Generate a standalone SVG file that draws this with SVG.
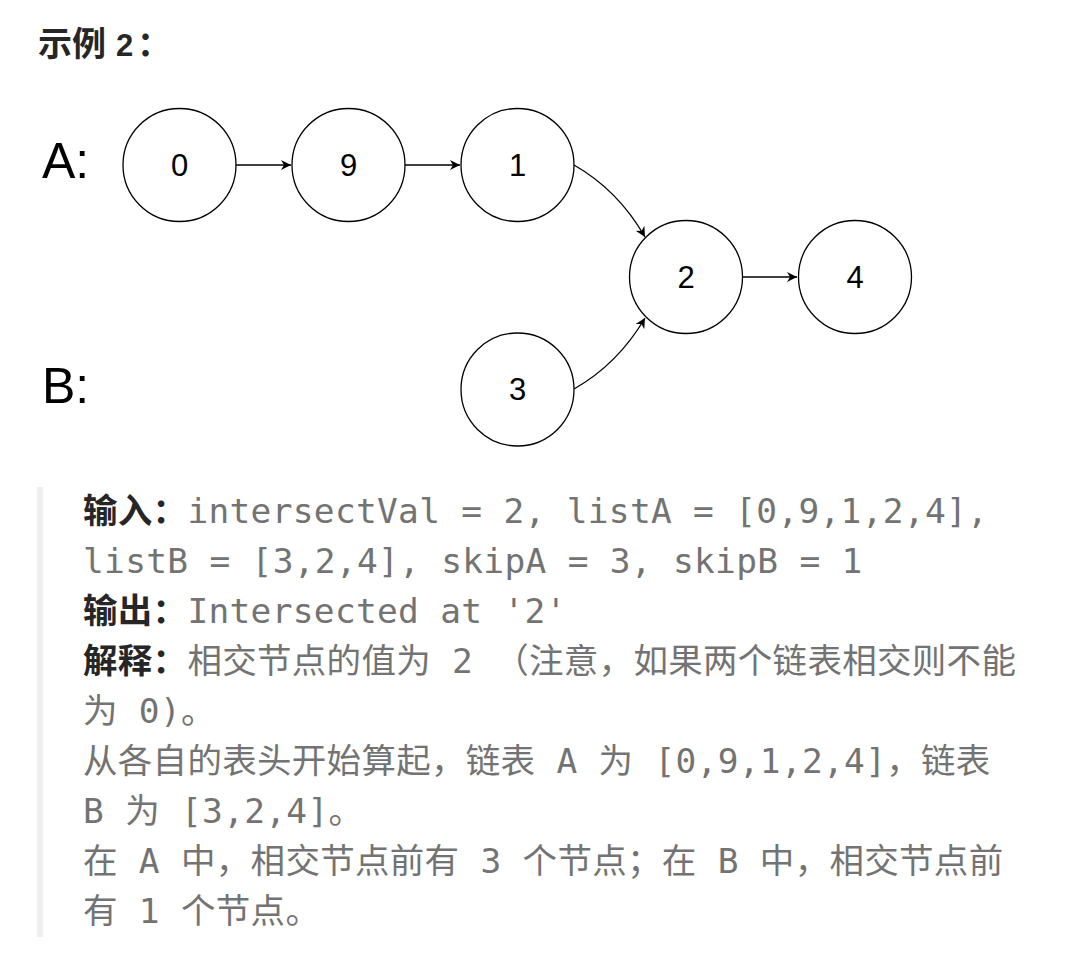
<svg xmlns="http://www.w3.org/2000/svg" width="1071" height="959" viewBox="0 0 1071 959">
<style>
.node{fill:#fff;stroke:#000;stroke-width:1.3}
.num{font-family:"Liberation Sans",Arial,sans-serif;font-size:31px;fill:#000;text-anchor:middle}
.lab{font-family:"Liberation Sans",Arial,sans-serif;font-size:50px;fill:#000}
.edge{fill:none;stroke:#000;stroke-width:1.3}
.body{font-family:"DejaVu Sans Mono","Noto Sans CJK SC",monospace;font-size:34.5px;letter-spacing:0.3px;fill:#737373}
.b{font-family:"Noto Sans CJK SC",sans-serif;font-weight:bold;fill:#262626}
.h{font-family:"Noto Sans CJK SC",sans-serif;font-weight:bold;fill:#262626;font-size:34px}
.h2{font-family:"Liberation Sans",Arial,sans-serif;font-weight:bold;fill:#262626;font-size:31px}
</style>
<defs>
<marker id="arr" markerUnits="userSpaceOnUse" markerWidth="12" markerHeight="12" refX="10" refY="5" orient="auto" viewBox="0 0 12 10">
<path d="M0,0 L10,5 L0,10 L3,5 Z" fill="#000"/>
</marker>
</defs>
<rect width="1071" height="959" fill="#fff"/>
<g id="heading">
<text x="38" y="56" xml:space="preserve"><tspan class="h">示例</tspan><tspan class="h2" x="116">2</tspan><tspan class="h" x="137">：</tspan></text>
</g>
<g id="labels">
<text class="lab" x="42" y="178">A:</text>
<text class="lab" x="42" y="403">B:</text>
</g>
<g id="connectors">
<path class="edge" d="M236,165 L291,165" marker-end="url(#arr)"/>
<path class="edge" d="M405,165 L460,165" marker-end="url(#arr)"/>
<path class="edge" d="M743,277 L797,277" marker-end="url(#arr)"/>
<path class="edge" d="M574,165 Q618,190 645,237" marker-end="url(#arr)"/>
<path class="edge" d="M574,389 Q618,364 645,318" marker-end="url(#arr)"/>
</g>
<g id="node-0"><circle class="node" cx="179.5" cy="165" r="56.5"/><text class="num" x="179.5" y="176">0</text></g>
<g id="node-9"><circle class="node" cx="348.5" cy="165" r="56.5"/><text class="num" x="348.5" y="176">9</text></g>
<g id="node-1"><circle class="node" cx="517.5" cy="165" r="56.5"/><text class="num" x="517.5" y="176">1</text></g>
<g id="node-2"><circle class="node" cx="686" cy="277" r="56.5"/><text class="num" x="686" y="288">2</text></g>
<g id="node-4"><circle class="node" cx="855" cy="277" r="56.5"/><text class="num" x="855" y="288">4</text></g>
<g id="node-3"><circle class="node" cx="517.5" cy="389.5" r="56.5"/><text class="num" x="517.5" y="400">3</text></g>
<g id="explanation">
<rect x="37" y="487" width="6" height="450" fill="#eeeeee"/>
<text class="body" x="83" y="523" xml:space="preserve"><tspan class="b">输入：</tspan>intersectVal = 2, listA = [0,9,1,2,4],</text>
<text class="body" x="83" y="573" xml:space="preserve">listB = [3,2,4], skipA = 3, skipB = 1</text>
<text class="body" x="83" y="623" xml:space="preserve"><tspan class="b">输出：</tspan>Intersected at '2'</text>
<text class="body" x="83" y="673" xml:space="preserve"><tspan class="b">解释：</tspan>相交节点的值为 2 （注意，如果两个链表相交则不能</text>
<text class="body" x="83" y="723" xml:space="preserve">为 0)。</text>
<text class="body" x="83" y="773" xml:space="preserve">从各自的表头开始算起，链表 A 为 [0,9,1,2,4]，链表</text>
<text class="body" x="83" y="823" xml:space="preserve">B 为 [3,2,4]。</text>
<text class="body" x="83" y="873" xml:space="preserve">在 A 中，相交节点前有 3 个节点；在 B 中，相交节点前</text>
<text class="body" x="83" y="923" xml:space="preserve">有 1 个节点。</text>
</g>
</svg>
